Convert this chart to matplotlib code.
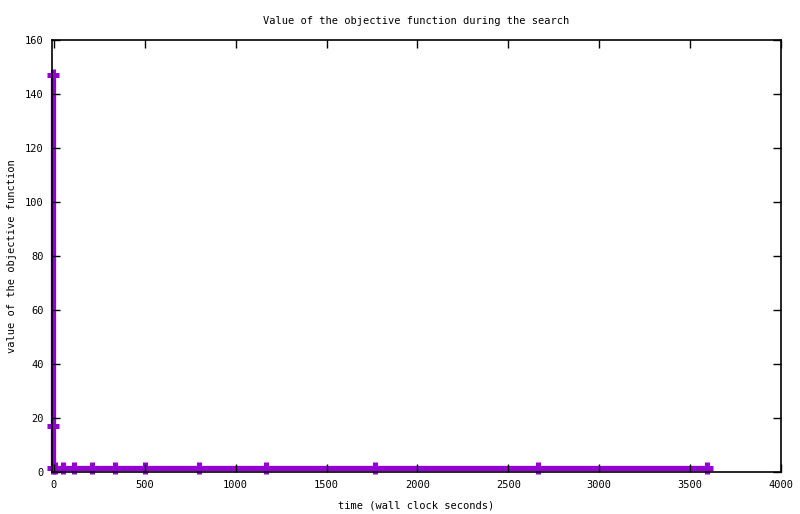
import matplotlib
matplotlib.use("Agg")
import matplotlib.pyplot as plt

# search trace: wall clock seconds vs objective value
time_s = [-3, -3, -3, 5, 48, 110, 209, 335, 500, 797, 1165, 1764, 2665, 3593]
objective = [147.0, 17.0, 1.3, 1.3, 1.3, 1.3, 1.3, 1.3, 1.3, 1.3, 1.3, 1.3, 1.3, 1.3]

x_ticks = [0, 500, 1000, 1500, 2000, 2500, 3000, 3500, 4000]
y_ticks = [0, 20, 40, 60, 80, 100, 120, 140, 160]

plt.rcParams["font.family"] = "DejaVu Sans Mono"
plt.rcParams["font.size"] = 7.5

fig = plt.figure(figsize=(8.0, 5.14), dpi=100)
ax = fig.add_axes([52 / 800, 1 - 472 / 514, (781 - 52) / 800, (472 - 39.5) / 514])

ax.plot(time_s, objective, color="#9400d3", lw=3.8, marker="+", ms=8.5, mew=3.6,
        solid_capstyle="butt", clip_on=False, zorder=1)

ax.set_xlim(-10, 4000)
ax.set_ylim(0, 160)
ax.set_xticks(x_ticks)
ax.set_yticks(y_ticks)
ax.tick_params(direction="in", length=6, width=1, top=True, right=True,
               labeltop=False, labelright=False, pad=6)
for side in ax.spines.values():
    side.set_linewidth(1.2)
    side.set_zorder(3)

ax.set_title("Value of the objective function during the search", fontsize=7.5, pad=11)
ax.set_xlabel("time (wall clock seconds)", labelpad=7)
ax.set_ylabel("value of the objective function", labelpad=6)

fig.savefig("out.png", dpi=100)
